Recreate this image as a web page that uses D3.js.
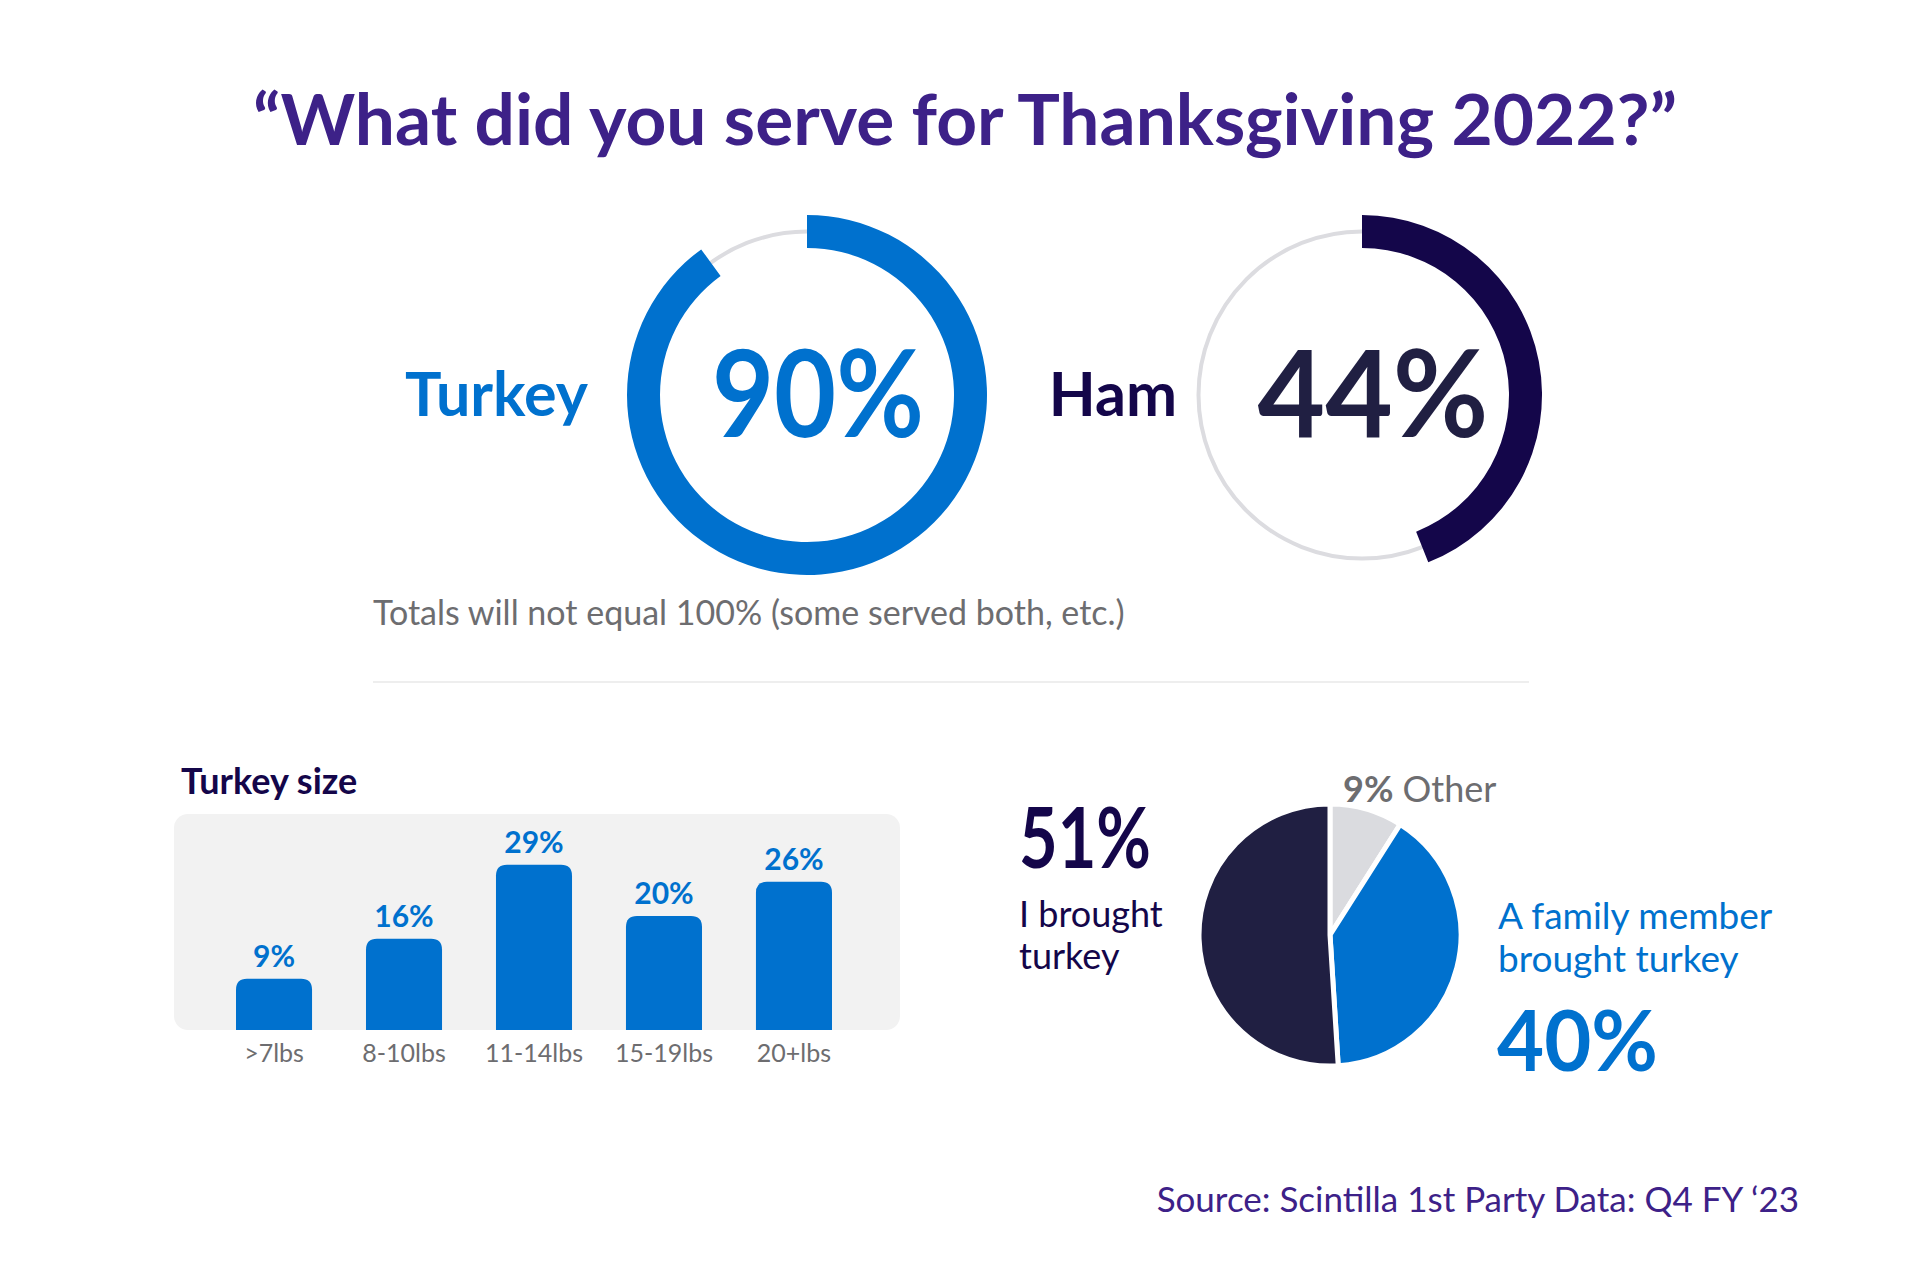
<!DOCTYPE html>
<html>
<head>
<meta charset="utf-8">
<script src="https://cdn.jsdelivr.net/npm/d3@7"></script>
<style>
  body { margin: 0; background: #fff; }
  svg { display: block; font-family: Lato, "Noto Sans", sans-serif; }
</style>
</head>
<body>
<div id="chart"></div>
<script>
// data
const servedItems = ["Turkey", "Ham"]
const servedValues = [90, 44]

const sizeCategories = [">7lbs", "8-10lbs", "11-14lbs", "15-19lbs", "20+lbs"]
const sizeValues = [9, 16, 29, 20, 26]

const broughtCategories = ["Other", "A family member brought turkey", "I brought turkey"]
const broughtValues = [9, 40, 51]

const blue = "#0071ce", navy = "#14064a", ink = "#201f42", purple = "#3d2188", grey = "#6d6d70"

const svgWidth = 1920, svgHeight = 1280

let svg = d3.select('#chart')
    .append('svg')
    .attr('width', svgWidth)
    .attr('height', svgHeight)

// squeeze a text to the width it has in the layout
function fit(sel, w) {
    return sel.attr('textLength', w).attr('lengthAdjust', 'spacingAndGlyphs')
}

// title
svg.append('text')
    .attr('x', 965).attr('y', 145)
    .attr('text-anchor', 'middle')
    .attr('fill', purple)
    .attr('font-size', 71).attr('font-weight', 700)
    .text('\u201cWhat did you serve for Thanksgiving 2022?\u201d')
    .call(fit, 1424)

// ---- rings ----
let rings = [
    {name: servedItems[0], value: servedValues[0], cx: 807, color: blue, textColor: blue, labelColor: blue, labelX: -219, numW: 212},
    {name: servedItems[1], value: servedValues[1], cx: 1362, color: navy, textColor: ink, labelColor: navy, labelX: -185, numW: 231}
]
let ringScale = d3.scaleLinear().domain([0, 100]).range([0, 2 * Math.PI])
let ringArc = d3.arc().innerRadius(147).outerRadius(180).startAngle(0)

let ringG = svg.selectAll('.ring')
    .data(rings)
    .join('g')
    .attr('class', 'ring')
    .attr('transform', d => `translate(${d.cx},395)`)

ringG.append('circle')
    .attr('r', 163.5)
    .attr('fill', 'none')
    .attr('stroke', '#dcdce0')
    .attr('stroke-width', 4)

ringG.append('path')
    .attr('fill', d => d.color)
    .attr('d', d => ringArc({endAngle: ringScale(d.value)}))

ringG.append('text')
    .attr('x', 11).attr('y', 42)
    .attr('text-anchor', 'middle')
    .attr('fill', d => d.textColor)
    .attr('font-size', 120).attr('font-weight', 700)
    .attr('textLength', d => d.numW)
    .attr('lengthAdjust', 'spacingAndGlyphs')
    .text(d => d.value + '%')

ringG.append('text')
    .attr('x', d => d.labelX).attr('y', 21)
    .attr('text-anchor', 'end')
    .attr('fill', d => d.labelColor)
    .attr('font-size', 61).attr('font-weight', 700)
    .text(d => d.name)

svg.append('text')
    .attr('x', 373).attr('y', 625)
    .attr('fill', grey)
    .attr('font-size', 34)
    .text('Totals will not equal 100% (some served both, etc.)')

svg.append('line')
    .attr('x1', 373).attr('x2', 1529)
    .attr('y1', 682).attr('y2', 682)
    .attr('stroke', '#eeeeee').attr('stroke-width', 2)

// ---- turkey size bars ----
svg.append('text')
    .attr('x', 181).attr('y', 794)
    .attr('fill', navy)
    .attr('font-size', 36).attr('font-weight', 700)
    .text('Turkey size')

svg.append('rect')
    .attr('x', 174).attr('y', 814)
    .attr('width', 726).attr('height', 216)
    .attr('rx', 14)
    .attr('fill', '#f2f2f2')

let xScale = d3.scaleBand()
    .domain(sizeCategories)
    .range([236, 832])
    .paddingInner(0.415)
    .paddingOuter(0)

let yScale = d3.scaleLinear()
    .domain([0, 30])
    .range([1030, 859])

function topRounded(x, y, w, h, r) {
    return `M${x},${y + h}V${y + r}Q${x},${y} ${x + r},${y}H${x + w - r}Q${x + w},${y} ${x + w},${y + r}V${y + h}Z`
}

let sizeData = sizeCategories.map((c, i) => ({cat: c, value: sizeValues[i]}))

svg.selectAll('.bar')
    .data(sizeData)
    .join('path')
    .attr('class', 'bar')
    .attr('fill', blue)
    .attr('d', d => topRounded(xScale(d.cat), yScale(d.value), xScale.bandwidth(), yScale(0) - yScale(d.value), 11))

svg.selectAll('.barLabel')
    .data(sizeData)
    .join('text')
    .attr('class', 'barLabel')
    .attr('x', d => xScale(d.cat) + xScale.bandwidth() / 2)
    .attr('y', d => yScale(d.value) - 12)
    .attr('text-anchor', 'middle')
    .attr('fill', blue)
    .attr('font-size', 30).attr('font-weight', 700)
    .text(d => d.value + '%')

svg.append('g')
    .attr('transform', 'translate(0,1030)')
    .call(d3.axisBottom(xScale).tickSize(0).tickPadding(14))
    .call(g => g.select('.domain').remove())
    .selectAll('text')
    .attr('fill', grey)
    .attr('font-family', 'Lato, sans-serif')
    .attr('font-size', 25)

// ---- who brought the turkey ----
let pieData = broughtCategories.map((c, i) => ({cat: c, value: broughtValues[i]}))
let pieColor = d3.scaleOrdinal().domain(broughtCategories).range(['#dadbdf', blue, ink])
let pie = d3.pie().sort(null).value(d => d.value)
let pieArc = d3.arc().innerRadius(0).outerRadius(131)

svg.append('g')
    .attr('transform', 'translate(1330,935)')
    .selectAll('path')
    .data(pie(pieData))
    .join('path')
    .attr('d', pieArc)
    .attr('fill', d => pieColor(d.data.cat))
    .attr('stroke', '#fff')
    .attr('stroke-width', 5)
    .attr('stroke-linejoin', 'round')

let other = svg.append('text')
    .attr('x', 1343).attr('y', 802)
    .attr('fill', grey)
    .attr('font-size', 36)
other.append('tspan').attr('font-weight', 700).text(broughtValues[0] + '%')
other.append('tspan').text(' ' + broughtCategories[0])

svg.append('text')
    .attr('x', 1019).attr('y', 868)
    .attr('fill', navy)
    .attr('font-size', 84).attr('font-weight', 700)
    .text(broughtValues[2] + '%')
    .call(fit, 132)

svg.append('text')
    .attr('fill', navy)
    .attr('font-size', 36)
    .selectAll('tspan')
    .data(['I brought', 'turkey'])
    .join('tspan')
    .attr('x', 1019)
    .attr('y', (d, i) => 927 + i * 42)
    .text(d => d)

svg.append('text')
    .attr('fill', blue)
    .attr('font-size', 37)
    .selectAll('tspan')
    .data(['A family member', 'brought turkey'])
    .join('tspan')
    .attr('x', 1498)
    .attr('y', (d, i) => 929 + i * 43)
    .text(d => d)

svg.append('text')
    .attr('x', 1497).attr('y', 1071)
    .attr('fill', blue)
    .attr('font-size', 84).attr('font-weight', 700)
    .text(broughtValues[1] + '%')
    .call(fit, 161)

// source
svg.append('text')
    .attr('x', 1799).attr('y', 1212)
    .attr('text-anchor', 'end')
    .attr('fill', purple)
    .attr('font-size', 35)
    .text('Source: Scintilla 1st Party Data: Q4 FY \u201823')
</script>
</body>
</html>
